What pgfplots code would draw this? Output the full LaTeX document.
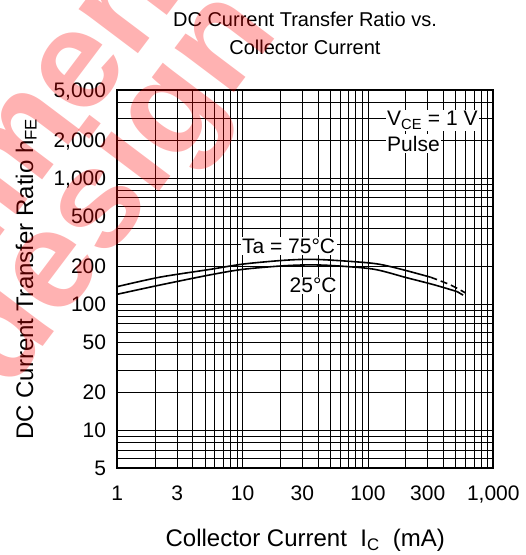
\documentclass[border=0pt]{standalone}
\usepackage{pgfplots}
\pgfplotsset{compat=1.18}
\usepackage{fontspec}
\setmainfont{Liberation Sans}

\begin{document}
\begin{tikzpicture}
\clip (-117.3pt,-86.7pt) rectangle (408.7pt,468.3pt);
\begin{axis}[
  at={(0pt,0pt)}, anchor=south west,
  scale only axis, width=376pt, height=378.3pt,
  xmode=log, ymode=log,
  xmin=1, xmax=1000, ymin=5, ymax=5000,
  xtick={1,3,10,30,100,300,1000},
  xticklabels={1,3,10,30,100,300,{1,000}},
  minor xtick={2,4,5,6,7,8,9,20,40,50,60,70,80,90,200,400,500,600,700,800,900},
  ytick={5,10,20,50,100,200,500,1000,2000,5000},
  yticklabels={5,10,20,50,100,200,500,{1,000},{2,000},{5,000}},
  minor ytick={6,7,8,9,30,40,60,70,80,90,300,400,600,700,800,900,3000,4000},
  grid=both,
  major grid style={black, line width=0.7pt},
  minor grid style={black, line width=0.7pt},
  major tick length=0pt, minor tick length=0pt,
  axis line style={black, line width=1.8pt},
  ticklabel style={font=\fontsize{21}{25}\selectfont, inner sep=0pt},
  xticklabel style={anchor=base, yshift=-32pt},
  yticklabel style={anchor=base east, xshift=-11pt, yshift=-7.5pt},
  xlabel={Collector Current\ \ I\textsubscript{C}\ \ (mA)},
  ylabel={DC Current Transfer Ratio h\textsubscript{FE}},
  label style={font=\fontsize{24}{28}\selectfont},
  xlabel style={at={(axis description cs:0.5,-0.2062)}, anchor=base},
  ylabel style={at={(axis description cs:-0.2242,0.5)}, anchor=base},
  curve/.style={black, line width=1.6pt, smooth, no markers},
]
% Ta = 75 C
\addplot[curve] coordinates {(1,138)(2.19,164)(5.5,189)(10,208)(20,222)(32,227)(50,224)(110,211)(171,193)(315,164)};
\addplot[curve, dash pattern=on 7pt off 4pt] coordinates {(315,164)(450,143)(600,123)};
% Ta = 25 C
\addplot[curve] coordinates {(1,120)(2.19,142)(5.5,171)(10,189)(20,201)(32,205)(50,203)(110,190)(205,162)(334,143)(514,126)};
\addplot[curve, dash pattern=on 7pt off 4pt] coordinates {(514,126)(610,114)};

\begin{scope}[every node/.style={fill=white, inner sep=1.5pt, font=\fontsize{21}{25}\selectfont}]
\node[anchor=base west] at (axis cs:9.6,253.6) {Ta = 75°C};
\node[anchor=base west] at (axis cs:23,123.5) {25°C};
\node[anchor=base west] at (axis cs:138,2592) {V\textsubscript{CE} = 1 V};
\node[anchor=base west] at (axis cs:138,1641) {Pulse};
\end{scope}
\end{axis}

\node[anchor=base, font=\fontsize{20}{24}\selectfont] at (187.7pt,441.6pt) {DC Current Transfer Ratio vs.};
\node[anchor=base, font=\fontsize{20}{24}\selectfont] at (187.7pt,413.3pt) {Collector Current};

% watermark
\begin{scope}[every node/.style={rotate=53, text=red, text opacity=0.3, font=\fontsize{140}{160}\selectfont\bfseries}]
\node at (-2pt,278pt) {design};
\node at (-32pt,428pt) {Not recommended for new};
\end{scope}
\end{tikzpicture}
\end{document}
